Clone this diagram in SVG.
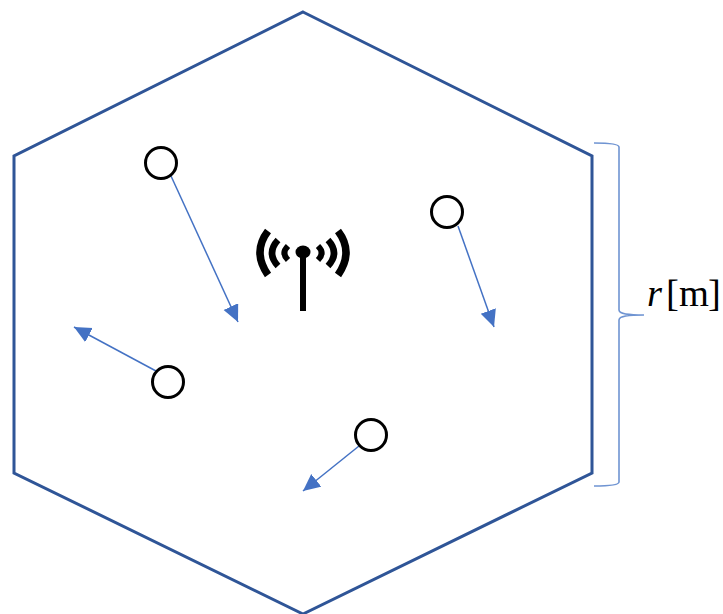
<svg xmlns="http://www.w3.org/2000/svg" width="723" height="614" viewBox="0 0 723 614">
<style>
.hex{fill:none;stroke:#2f5597;stroke-width:3;stroke-linejoin:miter}
.ue{fill:#fff;stroke:#000;stroke-width:3}
.mv{fill:none;stroke:#4472c4;stroke-width:1.500;marker-end:url(#ah)}
.brace{fill:none;stroke:#6f94d2;stroke-width:1.600}
.arc{fill:none;stroke:#000}
text{font-family:"Liberation Serif","Times New Roman",serif;fill:#000;font-size:38.500px}
</style>
<defs>
<marker id="ah" markerUnits="userSpaceOnUse" markerWidth="20" markerHeight="20" refX="17" refY="8" orient="auto">
<path d="M0 0L17 8L0 16Z" fill="#4472c4"/>
</marker>
</defs>
<rect width="723" height="614" fill="#fff"/>
<g id="cell"><path class="hex" d="M303 12L592 156V473L303 614L14 473V156Z"/></g>
<g id="connectors">
<path class="mv" d="M171 176L238 322"/>
<path class="mv" d="M458 226L494 327"/>
<path class="mv" d="M156 371L74 327"/>
<path class="mv" d="M359 446L303 491"/>
<path class="brace" d="M594 143C606 143 619 144 619 147V310C619 314 628 315 644 315C628 315 619 316 619 320V482C619 485 606 486 594 486"/>
</g>
<g id="antenna">
<path d="M300 252H306V311H300Z" fill="#000"/>
<ellipse cx="303" cy="252" rx="7.500" ry="6.500" fill="#000"/>
<path class="arc" stroke-width="7.500" d="M268 231Q252 252 268 275"/>
<path class="arc" stroke-width="6.500" d="M278 240Q266 253 278 266"/>
<path class="arc" stroke-width="6" d="M288 246Q281 253 288 260"/>
<path class="arc" stroke-width="7.500" d="M338 231Q354 252 338 275"/>
<path class="arc" stroke-width="6.500" d="M328 240Q340 253 328 266"/>
<path class="arc" stroke-width="6" d="M318 246Q325 253 318 260"/>
</g>
<g id="ue1"><circle class="ue" cx="161" cy="163" r="15.500"/></g>
<g id="ue2"><circle class="ue" cx="447" cy="212" r="15.500"/></g>
<g id="ue3"><circle class="ue" cx="168" cy="382" r="15.500"/></g>
<g id="ue4"><circle class="ue" cx="371" cy="435" r="15.500"/></g>
<g id="label"><text y="306"><tspan x="647" font-style="italic">r</tspan><tspan x="666">[</tspan><tspan x="679">m</tspan><tspan x="708">]</tspan></text></g>
</svg>
